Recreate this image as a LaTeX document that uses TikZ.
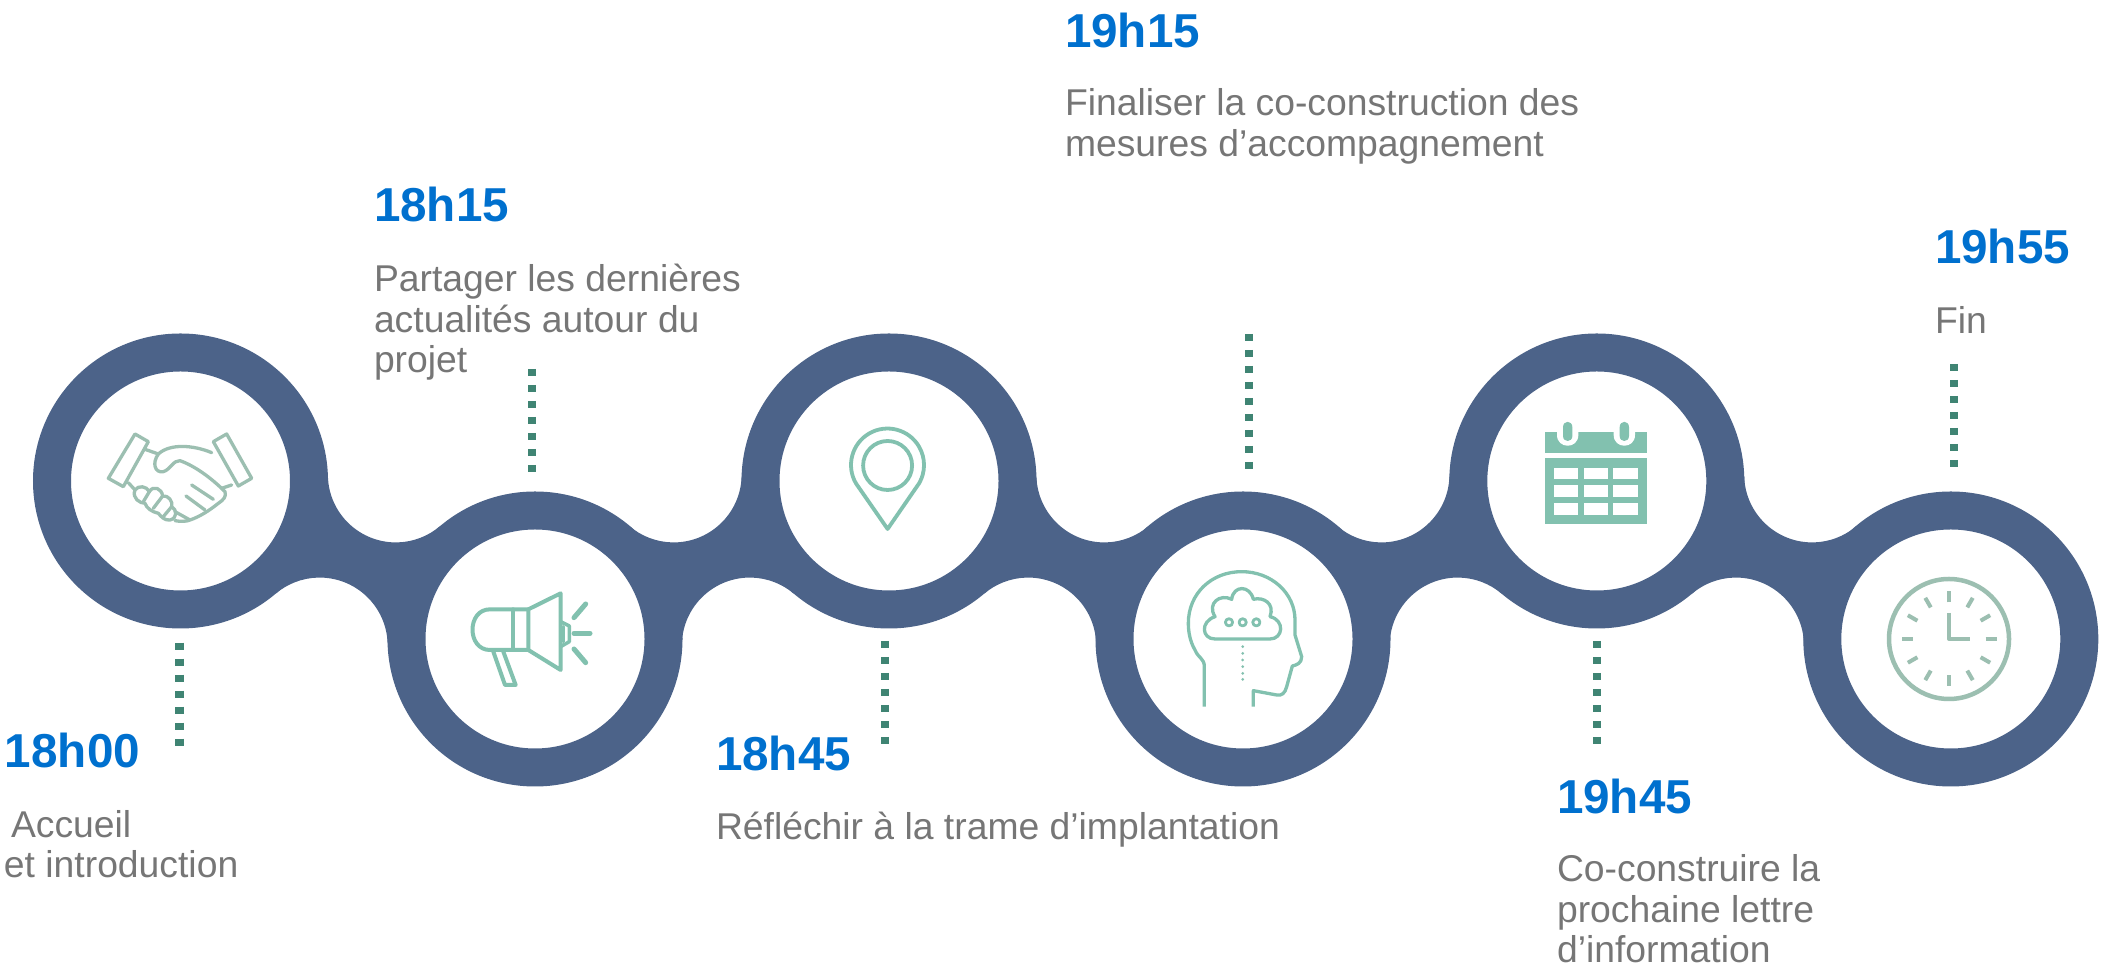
\documentclass[tikz,border=0pt]{standalone}
\usepackage{fontspec}
\setmainfont{Liberation Sans}
\definecolor{ringblue}{HTML}{4C6389}
\definecolor{timeblue}{HTML}{0070CE}
\definecolor{bodygrey}{HTML}{767676}
\definecolor{dotgreen}{HTML}{3F8473}
\definecolor{icongreen}{HTML}{82C1AF}
\definecolor{palegreen}{HTML}{9CBFB1}
\tikzset{
  ring/.style={circle,draw=ringblue,line width=38pt,fill=white,minimum size=257pt,inner sep=0pt,outer sep=0pt},
  neck/.style={fill=ringblue,draw=none},
  timelabel/.style={anchor=base west,inner sep=0pt,outer sep=0pt,text=timeblue,font=\fontsize{47.6}{50}\selectfont\bfseries},
  bodylabel/.style={anchor=base west,inner sep=0pt,outer sep=0pt,text=bodygrey,align=left,font=\fontsize{37.3}{40.6}\selectfont},
  dotline/.style={draw=dotgreen,line width=8.5pt,dash pattern=on 7.3pt off 8.7pt},
  zoomthree/.style 2 args={shift={(#1,{973-#2})},x=0.33333pt,y=-0.33333pt},
  iconline/.style={draw=icongreen,line width=#1,line join=round,line cap=round},
  iconline/.default=4pt,
  paleline/.style={draw=palegreen,line width=3.3pt,line join=round,line cap=round}
}
% descending neck: #1 = x of the upper circle
\newcommand{\neckdown}[1]{%
  \path[neck] ({#1+147.4},496.5) arc[start angle=181.75,end angle=310.2,radius=68pt]
    -- ({#1+207.1},329.5) arc[start angle=1.75,end angle=130.2,radius=68pt] -- cycle;}
% ascending neck: #1 = x of the upper circle
\newcommand{\neckup}[1]{%
  \path[neck] ({#1-147.4},496.5) arc[start angle=-1.75,end angle=-130.2,radius=68pt]
    -- ({#1-207.1},329.5) arc[start angle=178.25,end angle=49.8,radius=68pt] -- cycle;}
\begin{document}
\begin{tikzpicture}[x=1pt,y=1pt]
\useasboundingbox (0,0) rectangle (2101,973);
\neckdown{180.5}
\neckup{889}
\neckdown{889}
\neckup{1596.8}
\neckdown{1596.8}
\node[ring] (c1) at (180.5,492) {};
\node[ring] (c2) at (535,334) {};
\node[ring] (c3) at (889,492) {};
\node[ring] (c4) at (1243,334) {};
\node[ring] (c5) at (1596.8,492) {};
\node[ring] (c6) at (1950.8,334) {};
% dotted connectors
\coordinate (d1a) at (179.5,330.3); \coordinate (d1b) at (179.5,227);
\coordinate (d2a) at (532,604); \coordinate (d2b) at (532,500.5);
\coordinate (d3a) at (885,332); \coordinate (d3b) at (885,228.5);
\coordinate (d4a) at (1249,639); \coordinate (d4b) at (1249,503.5);
\coordinate (d5a) at (1597,332); \coordinate (d5b) at (1597,228.5);
\coordinate (d6a) at (1954,609); \coordinate (d6b) at (1954,505.5);
\foreach \n in {1,...,6} \draw[dotline] (d\n a) -- (d\n b);
% labels
\node[timelabel] (t1) at (5,205.5) {18h00};
\node[bodylabel] (b1) at (4,95) {\hspace*{7pt}Accueil\\et introduction};
\node[timelabel] (t2) at (374,751) {18h15};
\node[bodylabel] (b2) at (374,600) {Partager les dernières\\actualités autour du\\projet};
\node[timelabel] (t3) at (716,202) {18h45};
\node[bodylabel] (b3) at (716,133) {Réfléchir à la trame d’implantation};
\node[timelabel] (t4) at (1065,925) {19h15};
\node[bodylabel] (b4) at (1065,816.5) {Finaliser la co-construction des\\mesures d’accompagnement};
\node[timelabel] (t5) at (1557,159) {19h45};
\node[bodylabel] (b5) at (1557,10) {Co-construire la\\prochaine lettre\\d’information};
\node[timelabel] (t6) at (1935,709.5) {19h55};
\node[bodylabel] (b6) at (1935,639.5) {Fin};
% handshake
\begin{scope}[zoomthree={90}{410}]
\draw[paleline] (135,72)--(175,95)--(100,230)--(55,205)--cycle;
\draw[paleline] (410,72)--(370,95)--(445,228)--(485,205)--cycle;
\draw[paleline] (165,118)--(205,132) .. controls (240,100) and (310,105) .. (365,128);
\draw[paleline] (205,132) .. controls (185,160) and (195,190) .. (220,185) .. controls (240,180) and (250,150) .. (270,152) .. controls (320,170) and (370,210) .. (405,245) .. controls (410,260) and (400,270) .. (385,280) .. controls (360,300) and (330,320) .. (300,330) .. controls (290,335) and (270,335) .. (255,332);
\draw[paleline] (395,235)--(425,225);
\draw[paleline] (115,218)--(135,240);
\draw[paleline] (305,225)--(370,268);
\draw[paleline] (288,258)--(345,300);
\draw[paleline] (255,305)--(300,330);
\draw[paleline] (135,240) .. controls (145,225) and (170,228) .. (178,245) .. controls (190,225) and (215,235) .. (218,258) .. controls (235,255) and (250,275) .. (245,290) .. controls (262,300) and (262,325) .. (240,330) .. controls (225,332) and (215,322) .. (205,310) .. controls (185,305) and (170,295) .. (165,280) .. controls (150,280) and (125,265) .. (135,240);
\draw[paleline] (178,245)--(160,275);
\draw[paleline] (218,258)--(190,295);
\draw[paleline] (245,290)--(220,320);
\end{scope}
% megaphone
\begin{scope}[zoomthree={450}{570}]
\draw[iconline] (235,118)--(120,118) .. controls (50,118) and (50,240) .. (120,240) -- (235,240);
\draw[iconline] (190,118)--(190,240);
\draw[iconline] (235,118)--(332,70)--(332,300)--(235,240)--cycle;
\draw[iconline=3.5pt] (332,155)--(358,168)--(358,215)--(332,230);
\draw[iconline=3pt] (340,170)--(340,215);
\draw[iconline] (130,245)--(165,345)--(197,345)--(160,245);
\draw[iconline=5pt] (372,143)--(407,102);
\draw[iconline=5pt] (372,190)--(420,190);
\draw[iconline=5pt] (372,237)--(407,278);
\end{scope}
% pin
\draw[iconline=3.8pt] (887.6,507.5) circle[radius=24.5pt];
\draw[iconline=3.8pt] (887.6,444) -- (855.9,489.7) arc[start angle=210,end angle=-30,radius=36.5pt] -- cycle;
% head
\begin{scope}[zoomthree={1170}{560}]
\draw[iconline=3.3pt,line cap=butt] (103,440) -- (103,320) .. controls (103,295) and (85,295) .. (75,270) .. controls (60,245) and (55,215) .. (55,190) .. controls (55,100) and (125,35) .. (215,35) .. controls (305,35) and (375,100) .. (375,180) -- (375,225) -- (395,290) .. controls (395,310) and (380,315) .. (367,318) -- (350,380) .. controls (345,400) and (335,408) .. (320,405) -- (250,392) -- (250,440);
\draw[iconline=3.3pt] (135,237) -- (300,237) .. controls (340,237) and (345,180) .. (300,170) .. controls (315,130) and (280,110) .. (250,118) .. controls (240,75) and (190,75) .. (185,118) .. controls (150,100) and (110,130) .. (135,170) .. controls (90,185) and (95,237) .. (135,237) -- cycle;
\foreach \u in {177,218,259} \draw[iconline=2.8pt] (\u,187) circle[radius=3.6pt];
\foreach \v in {260,280,300,320,340,358} \fill[icongreen] (218,\v) circle[radius=1.5pt];
\end{scope}
% calendar
\begin{scope}[zoomthree={1530}{410}]
\fill[icongreen] (46,66) rectangle (350,128);
\foreach \u in {113,283}{
  \fill[white] (\u-32,60) -- (\u+32,60) -- (\u+32,75) .. controls (\u+32,118) and (\u-32,118) .. (\u-32,75) -- cycle;
  \fill[icongreen] (\u-14,52) .. controls (\u-14,30) and (\u+14,30) .. (\u+14,52) -- (\u+14,78) .. controls (\u+14,98) and (\u-14,98) .. (\u-14,78) -- cycle;
}
\fill[icongreen] (46,145) rectangle (350,342);
\foreach \u in {72,162,250} \foreach \v in {173,226,279} \fill[white] (\u,\v) rectangle ++(73,35);
\end{scope}
% clock
\begin{scope}[shift={(1949,334)}]
\draw[draw=palegreen,line width=4.5pt] (0,0) circle[radius=60pt];
\foreach \a in {0,30,...,330} \draw[draw=palegreen,line width=4pt] (\a:36.5pt) -- (\a:47.5pt);
\draw[draw=palegreen,line width=4pt,line join=round] (0,26) -- (0,0) -- (21,0);
\end{scope}
\end{tikzpicture}
\end{document}
